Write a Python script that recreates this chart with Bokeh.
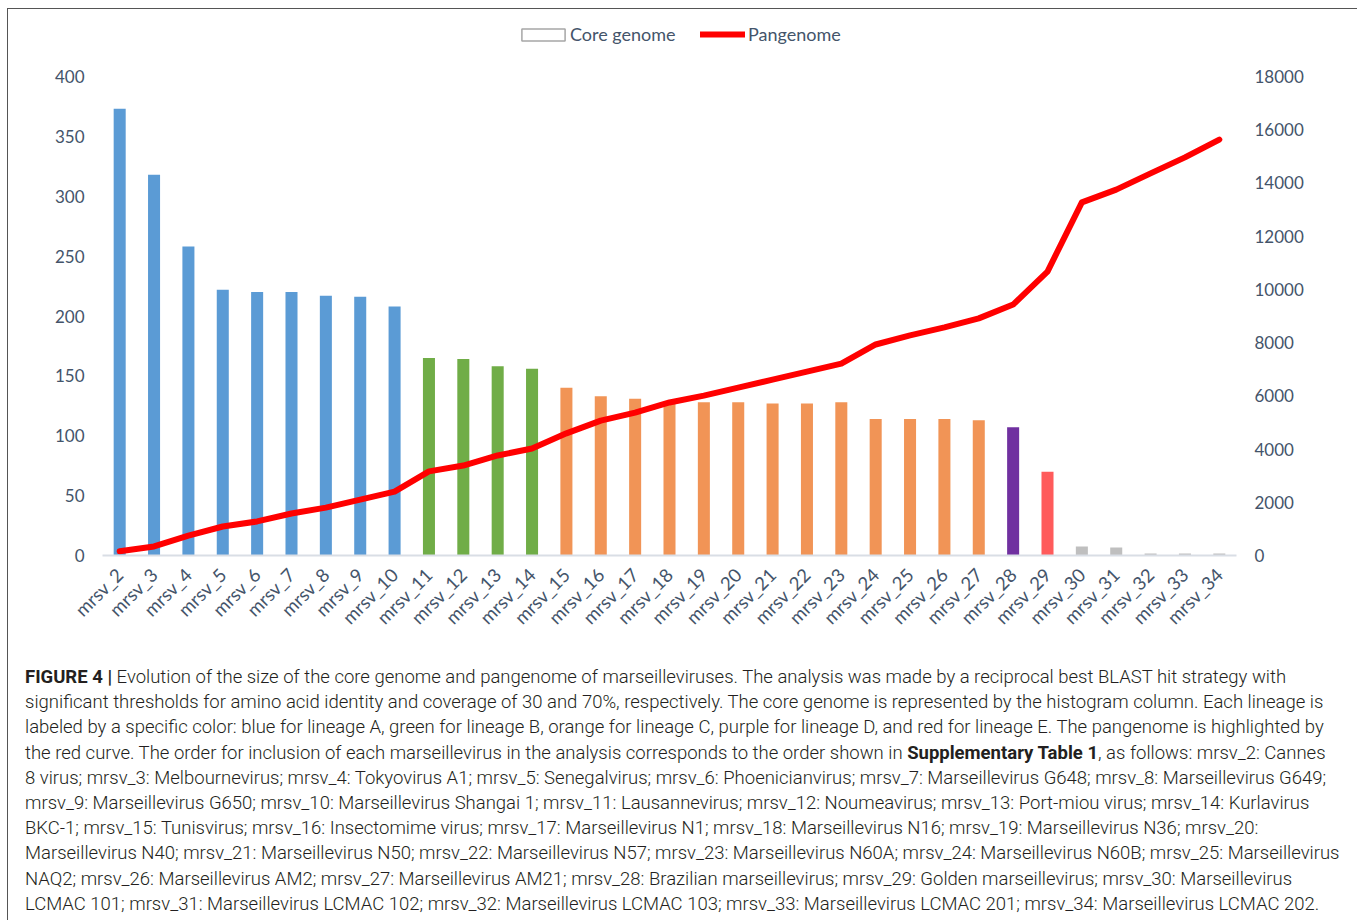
import numpy as np
from bokeh.plotting import figure
from bokeh.models import (ColumnDataSource, Range1d, LinearAxis, FixedTicker,
                          Legend, LegendItem, FactorRange, Div)
from bokeh.layouts import column
from bokeh.embed import file_html
from bokeh.resources import INLINE

# ---------------- data ----------------
categories = [f"mrsv_{i}" for i in range(2, 35)]
core_genome = [373, 318, 258, 222, 220, 220, 217, 216, 208,
               165, 164, 158, 156,
               140, 133, 131, 128, 128, 128, 127, 127, 128, 114, 114, 114, 113,
               107, 70, 7.5, 6.7, 1.7, 1.7, 1.7]
pangenome = [160, 340, 750, 1090, 1280, 1580, 1800, 2100, 2400,
             3160, 3380, 3760, 4020,
             4590, 5070, 5370, 5750, 6010, 6310, 6610, 6910, 7210, 7930, 8270, 8570, 8910,
             9430, 10670, 13270, 13750, 14360, 14960, 15630]
lineage = ["A"] * 9 + ["B"] * 4 + ["C"] * 13 + ["D"] + ["E"] + ["none"] * 5
left_ticks = list(range(0, 401, 50))
right_ticks = list(range(0, 18001, 2000))

lineage_colors = {"A": "#5B9BD5", "B": "#70AD47", "C": "#F19456", "D": "#7030A0",
                  "E": "#FF5B5B", "none": "#BFBFBF"}

src = ColumnDataSource(dict(cat=categories, core=core_genome, pan=pangenome,
                            color=[lineage_colors[l] for l in lineage]))

TXT = "#44546A"
FONT = "Lato"

# frame: 542 px tall, 400 units of the left axis = 479 px -> headroom above for the legend
Y_END = 542 / (479 / 400)
p = figure(x_range=FactorRange(*categories), y_range=Range1d(0, Y_END),
           width=1347, height=650, output_backend="svg", toolbar_location=None,
           min_border_left=94, min_border_right=119, min_border_top=4, min_border_bottom=104,
           outline_line_color=None)
p.extra_y_ranges = {"pan": Range1d(0, Y_END * 45)}
p.xgrid.grid_line_color = None
p.ygrid.grid_line_color = None

bars = p.vbar(x="cat", top="core", width=0.35, fill_color="color", line_color=None, source=src)
# legend-only swatch for the multi-coloured columns (not drawn in the plot)
swatch = p.vbar(x="cat", top="core", width=0.35, fill_color="white", line_color="#A6A6A6",
                line_width=1.5, source=src, visible=False)
line = p.line(x="cat", y="pan", y_range_name="pan", line_color="#FF0000", line_width=6,
              line_join="round", line_cap="round", source=src)

# left axis
p.yaxis.ticker = FixedTicker(ticks=left_ticks)
for ax in p.yaxis:
    ax.axis_line_color = None
    ax.major_tick_line_color = None
    ax.minor_tick_line_color = None
    ax.major_label_text_font = FONT
    ax.major_label_text_font_size = "17px"
    ax.major_label_text_color = TXT
    ax.major_label_standoff = 12

rax = LinearAxis(y_range_name="pan", ticker=FixedTicker(ticks=right_ticks),
                 axis_line_color=None, major_tick_line_color=None, minor_tick_line_color=None,
                 major_label_text_font=FONT, major_label_text_font_size="17px",
                 major_label_text_color=TXT, major_label_standoff=12)
p.add_layout(rax, "right")

xa = p.xaxis[0]
xa.axis_line_color = "#D9DEE5"
xa.axis_line_width = 2
xa.major_tick_line_color = None
xa.minor_tick_line_color = None
xa.major_label_orientation = np.pi / 4
xa.major_label_text_font = FONT
xa.major_label_text_font_size = "18.5px"
xa.major_label_text_color = TXT
xa.major_label_standoff = 10

common = dict(orientation="horizontal", padding=0, margin=0, border_line_color=None,
              background_fill_alpha=0, inactive_fill_alpha=0, label_text_font=FONT,
              label_text_font_size="18px", label_text_color=TXT,
              label_text_baseline="middle", label_height=12, click_policy="none")
legend_core = Legend(items=[LegendItem(label="Core genome", renderers=[swatch])],
                     location=(414, 510), glyph_width=54, glyph_height=15,
                     label_standoff=0, **common)
legend_pan = Legend(items=[LegendItem(label="Pangenome", renderers=[line])],
                    location=(598, 510), glyph_width=45, glyph_height=12,
                    label_standoff=3, **common)
p.add_layout(legend_core)
p.add_layout(legend_pan)

lines = [
    "<b>FIGURE 4 |</b> Evolution of the size of the core genome and pangenome of marseilleviruses. The analysis was made by a reciprocal best BLAST hit strategy with",
    "significant thresholds for amino acid identity and coverage of 30 and 70%, respectively. The core genome is represented by the histogram column. Each lineage is",
    "labeled by a specific color: blue for lineage A, green for lineage B, orange for lineage C, purple for lineage D, and red for lineage E. The pangenome is highlighted by",
    "the red curve. The order for inclusion of each marseillevirus in the analysis corresponds to the order shown in <b>Supplementary Table 1</b>, as follows: mrsv_2: Cannes",
    "8 virus; mrsv_3: Melbournevirus; mrsv_4: Tokyovirus A1; mrsv_5: Senegalvirus; mrsv_6: Phoenicianvirus; mrsv_7: Marseillevirus G648; mrsv_8: Marseillevirus G649;",
    "mrsv_9: Marseillevirus G650; mrsv_10: Marseillevirus Shangai 1; mrsv_11: Lausannevirus; mrsv_12: Noumeavirus; mrsv_13: Port-miou virus; mrsv_14: Kurlavirus",
    "BKC-1; mrsv_15: Tunisvirus; mrsv_16: Insectomime virus; mrsv_17: Marseillevirus N1; mrsv_18: Marseillevirus N16; mrsv_19: Marseillevirus N36; mrsv_20:",
    "Marseillevirus N40; mrsv_21: Marseillevirus N50; mrsv_22: Marseillevirus N57; mrsv_23: Marseillevirus N60A; mrsv_24: Marseillevirus N60B; mrsv_25: Marseillevirus",
    "NAQ2; mrsv_26: Marseillevirus AM2; mrsv_27: Marseillevirus AM21; mrsv_28: Brazilian marseillevirus; mrsv_29: Golden marseillevirus; mrsv_30: Marseillevirus",
    "LCMAC 101; mrsv_31: Marseillevirus LCMAC 102; mrsv_32: Marseillevirus LCMAC 103; mrsv_33: Marseillevirus LCMAC 201; mrsv_34: Marseillevirus LCMAC 202.",
]
html = ('<div style="font-family: Roboto, sans-serif; font-weight: 300; font-size: 18.5px; '
        'line-height: 25.2px; color: #231F20; white-space: nowrap; padding: 1px 0 0 12px;">'
        + "<br>".join(lines).replace("<b>", '<b style="font-weight: 700;">') + "</div>")
div = Div(text=html, width=1347, height=255)

layout = column(p, div, styles={"border": "1px solid #555555", "margin": "8px 0 0 7px"})

open("out.html", "w").write(file_html(layout, INLINE))
